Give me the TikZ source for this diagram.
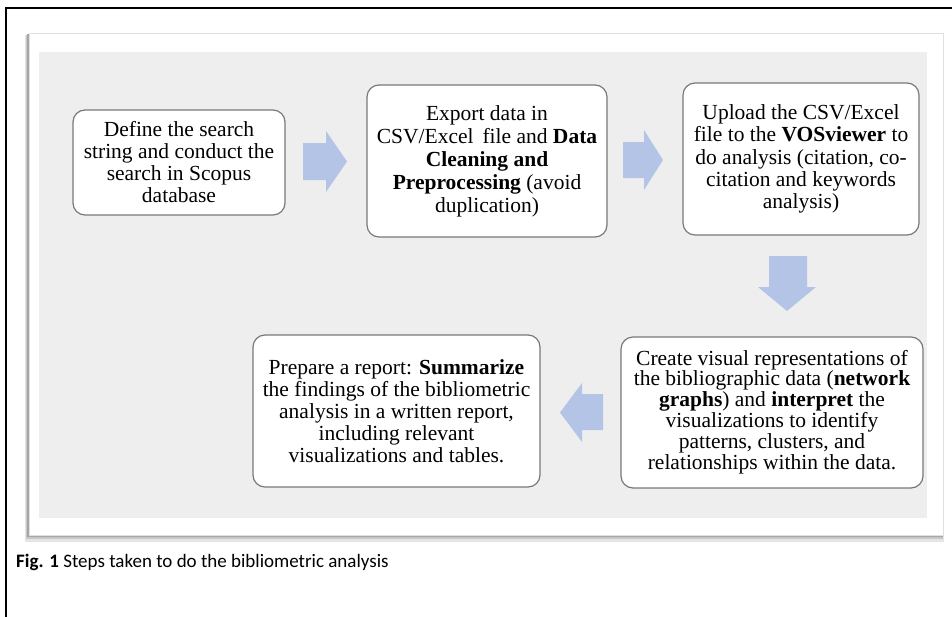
\documentclass[tikz,border=0pt]{standalone}
\usepackage{fontspec}
\setmainfont{Liberation Serif}
\newfontfamily\capfont{Carlito}
\definecolor{panelgray}{RGB}{238,238,238}
\definecolor{arrowblue}{RGB}{180,196,230}
\definecolor{boxedge}{RGB}{120,120,120}
\tikzset{
  stepbox/.style={draw=boxedge, line width=1.2pt, fill=white, rounded corners=12pt,
    align=center, inner sep=0pt, font=\fontsize{21.5}{23}\selectfont},
  blockarrow/.style={fill=arrowblue, draw=none}
}
\begin{document}
\begin{tikzpicture}[x=1pt,y=-1pt]
\useasboundingbox (0,0) rectangle (952,616);
\clip (0,0) rectangle (952,616);
\fill[white] (0,0) rectangle (952,616);
% outer frame
\draw[line width=2pt] (6,630) -- (6,8) -- (970,8);
% panel with shadow
\fill[black!10] (25,35) rectangle (944,542);
\fill[black!22] (26,35) rectangle (943,539);
\fill[black!35] (27,34) rectangle (943,537);
\fill[white] (29,33) rectangle (943,535);
\draw[black!12, line width=0.6pt] (29,33) rectangle (943,535);
% gray background
\fill[panelgray] (39,52) rectangle (927,518);
% boxes
\node[stepbox, minimum width=212pt, minimum height=105pt, font=\fontsize{21.5}{22}\selectfont] (s1) at (179,162.5)
  {Define the search\\string and conduct the\\search in Scopus\\database};
\node[stepbox, minimum width=240pt, minimum height=152pt] (s2) at (487,161)
  {Export data in\\CSV/Excel\, file and \textbf{Data}\\\textbf{Cleaning and}\\\textbf{Preprocessing} (avoid\\duplication)};
\node[stepbox, minimum width=236pt, minimum height=152pt, font=\fontsize{21.5}{22.3}\selectfont] (s3) at (801,159)
  {Upload the CSV/Excel\\file to the \textbf{VOSviewer} to\\do analysis (citation, co-\\citation and keywords\\analysis)};
\node[stepbox, minimum width=302pt, minimum height=151pt] (s4) at (772,412.5)
  {\fontsize{21.5}{19.5}\selectfont\raisebox{-2pt}{\begin{tabular}{@{}c@{}}Create visual representations of\\the bibliographic data (\textbf{network}\\\textbf{graphs}) and \textbf{interpret} the\\visualizations to identify\\patterns, clusters, and\\relationships within the data.\end{tabular}}};
\node[stepbox, minimum width=287pt, minimum height=152pt, font=\fontsize{21.5}{22}\selectfont] (s5) at (396.5,411)
  {Prepare a report: \textbf{Summarize}\\the findings of the bibliometric\\analysis in a written report,\\including relevant\\visualizations and tables.};
% block arrows
\fill[blockarrow] (303,143) -- (326,143) -- (326,131) -- (347,161.5) -- (326,192) -- (326,180) -- (303,180) -- cycle;
\fill[blockarrow] (623,142) -- (644,142) -- (644,130) -- (663,160) -- (644,190) -- (644,178) -- (623,178) -- cycle;
\fill[blockarrow] (769,256) -- (807,256) -- (807,287) -- (816,287) -- (787,311) -- (758,287) -- (769,287) -- cycle;
\fill[blockarrow] (603,394) -- (603,430) -- (582,430) -- (582,442) -- (560,412.5) -- (582,383) -- (582,394) -- cycle;
% caption
\node[anchor=base west, inner sep=0pt, font=\capfont\fontsize{19}{23}\selectfont] (cap) at (16,567)
  {\textbf{Fig. 1} Steps taken to do the bibliometric analysis};
\end{tikzpicture}
\end{document}
